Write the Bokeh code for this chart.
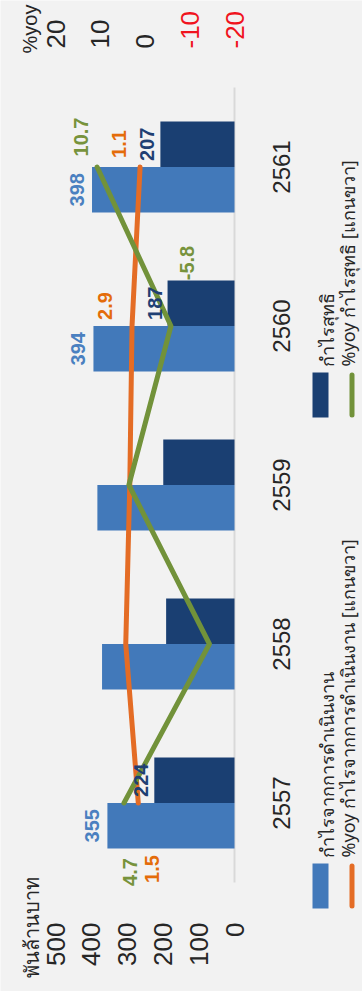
from math import pi
from bokeh.plotting import figure
from bokeh.models import Range1d, ColumnDataSource
from bokeh.transform import dodge
from bokeh.embed import file_html
from bokeh.resources import INLINE
from bokeh.core.properties import value

# ---------------- data ----------------
years = [2557, 2558, 2559, 2560, 2561]
year_labels = ["2557", "2558", "2559", "2560", "2561"]
op_profit = [355, 370, 383, 394, 398]          # กำไรจากการดำเนินงาน
net_profit = [224, 191, 199, 187, 207]         # กำไรสุทธิ
op_yoy = [1.5, 4.3, 3.4, 2.9, 1.1]             # %yoy กำไรจากการดำเนินงาน
net_yoy = [4.7, -14.4, 3.6, -5.8, 10.7]        # %yoy กำไรสุทธิ
op_profit_labels = ["355", "", "", "394", "398"]
net_profit_labels = ["224", "", "", "187", "207"]
op_yoy_labels = ["1.5", "", "", "2.9", "1.1"]
net_yoy_labels = ["4.7", "", "", "-5.8", "10.7"]
value_ticks = [0, 100, 200, 300, 400, 500]
yoy_ticks = [20, 10, 0, -10, -20]
series_names = ["กำไรจากการดำเนินงาน", "กำไรสุทธิ",
                "%yoy กำไรจากการดำเนินงาน [แกนขวา]", "%yoy กำไรสุทธิ [แกนขวา]"]
value_unit = "พันล้านบาท"
yoy_unit = "%yoy"

# ---------------- style / layout ----------------
BG = "#F2F2F2"
LIGHT = "#4279BA"
DARK = "#1A3F72"
ORANGE = "#E46C25"
GREEN = "#72923A"
TXT = "#262626"
RED = "#F0141E"
FONT = "Liberation Sans"
THAI = "Noto Sans"
W, H = 362, 991
FL, FR, FT, FB = 55, 234, 87, 882          # plot-area edges in page pixels
VMAX, YOY_MAX = 500, 20
BAR_H = 0.286

# per-label screen offsets for the yoy data labels (style only)
op_yoy_dx = [14, 0, 0, -27, -21]
op_yoy_dy = [66, 0, 0, -20, -23]
net_yoy_dx = [6, 0, 0, 16, -16]
net_yoy_dy = [69, 0, 0, -63, -30]

# scales: the whole canvas is the frame; the plot area is FL..FR x FT..FB
sx = (FR - FL) / VMAX
syoy = (FR - FL) / (2 * YOY_MAX)
py = (FB - FT) / len(years)
x_range = Range1d(VMAX + FL / sx, 0 - (W - FR) / sx)
y_range = Range1d(years[0] - 0.5 - (H - FB) / py, years[-1] + 0.5 + FT / py)

p = figure(width=W, height=H, x_range=x_range, y_range=y_range,
           x_axis_location=None, y_axis_location=None, title=None, min_border=0,
           output_backend="svg", toolbar_location=None,
           background_fill_color=BG, border_fill_color=BG, outline_line_color=None)
p.extra_x_ranges = {"yoy": Range1d(YOY_MAX + FL / syoy, -YOY_MAX - (W - FR) / syoy),
                    "px": Range1d(0, W)}
p.extra_y_ranges = {"px": Range1d(H, 0)}
p.grid.visible = False

src = ColumnDataSource(dict(
    year=years, year_lbl=year_labels, op=op_profit, net=net_profit,
    op_yoy=op_yoy, net_yoy=net_yoy,
    op_lbl=op_profit_labels, net_lbl=net_profit_labels,
    op_yoy_lbl=op_yoy_labels, net_yoy_lbl=net_yoy_labels,
    op_yoy_dx=op_yoy_dx, op_yoy_dy=op_yoy_dy,
    net_yoy_dx=net_yoy_dx, net_yoy_dy=net_yoy_dy,
))

# ---- value axis tick labels (bottom) ----
p.text(x=value_ticks, y=[FB + 40] * len(value_ticks), y_range_name="px",
       text=[str(v) for v in value_ticks], angle=pi / 2, text_align="right",
       text_baseline="middle", text_font=value(FONT), text_font_size="26px",
       text_color=TXT)

# ---- %yoy axis tick labels (top) ----
p.text(x=yoy_ticks, y=[FT - 39] * len(yoy_ticks), x_range_name="yoy", y_range_name="px",
       text=[str(v) for v in yoy_ticks], angle=pi / 2, text_align="left",
       text_baseline="middle", text_font=value(FONT), text_font_size="26px",
       text_color=[RED if v < 0 else TXT for v in yoy_ticks])

# ---- category axis line + year labels ----
p.segment(x0=[0], x1=[0], y0=[years[0] - 0.5], y1=[years[-1] + 0.5],
          line_color="#D9D9D9", line_width=2)
p.text(x=280.5, y="year", x_range_name="px", text="year_lbl", source=src, angle=pi / 2,
       text_align="center", text_baseline="middle", text_font=value(FONT),
       text_font_size="24px", text_color=TXT)

# ---- bars ----
p.hbar(y=dodge("year", -BAR_H / 2), left=0, right="op", height=BAR_H, source=src,
       fill_color=LIGHT, line_color=None)
p.hbar(y=dodge("year", BAR_H / 2), left=0, right="net", height=BAR_H, source=src,
       fill_color=DARK, line_color=None)

# ---- lines ----
p.line(x="op_yoy", y="year", x_range_name="yoy", source=src, line_color=ORANGE,
       line_width=5, line_cap="round", line_join="round")
p.line(x="net_yoy", y="year", x_range_name="yoy", source=src, line_color=GREEN,
       line_width=5, line_cap="round", line_join="round")

# ---- data labels ----
lbl = dict(angle=pi / 2, text_align="center", text_baseline="middle",
           text_font=value(FONT), text_font_style="bold", text_font_size="20px", source=src)
p.text(x="op", y=dodge("year", -BAR_H / 2), text="op_lbl", x_offset=-15,
       text_color="#4A80C0", **lbl)
p.text(x="net", y=dodge("year", BAR_H / 2), text="net_lbl", x_offset=-13,
       text_color="#1F3F73", **lbl)
p.text(x="op_yoy", y="year", text="op_yoy_lbl", x_range_name="yoy",
       x_offset="op_yoy_dx", y_offset="op_yoy_dy", text_color="#E46C0A", **lbl)
p.text(x="net_yoy", y="year", text="net_yoy_lbl", x_range_name="yoy",
       x_offset="net_yoy_dx", y_offset="net_yoy_dy", text_color="#77933C", **lbl)

# ---- axis titles ----
p.text(x=[29], y=[53], x_range_name="px", y_range_name="px", text=[yoy_unit],
       angle=pi / 2, text_align="left", text_baseline="alphabetic",
       text_font=value(FONT), text_font_size="20px", text_color=TXT)
p.text(x=[31], y=[977], x_range_name="px", y_range_name="px", text=[value_unit],
       angle=pi / 2, text_align="left", text_baseline="alphabetic",
       text_font=value(THAI), text_font_size="20px", text_color=TXT)

# ---- legend (rotated) ----
leg_colors = [LIGHT, DARK, ORANGE, GREEN]
leg_top = [863, 372, 863, 372]
leg_text_x = [326, 326, 347, 347]
KEY_LEN = 45
p.quad(left=312, right=328, top=leg_top[:2], bottom=[t + KEY_LEN for t in leg_top[:2]],
       fill_color=leg_colors[:2], line_color=None, x_range_name="px", y_range_name="px")
p.segment(x0=351.5, x1=351.5, y0=[t + 2.5 for t in leg_top[2:]],
          y1=[t + KEY_LEN - 2.5 for t in leg_top[2:]], line_color=leg_colors[2:],
          line_width=5, line_cap="round", x_range_name="px", y_range_name="px")
p.text(x=leg_text_x, y=[t - 6 for t in leg_top], text=series_names,
       x_range_name="px", y_range_name="px", angle=pi / 2, text_align="left",
       text_baseline="alphabetic", text_font=value(THAI), text_font_size="18px",
       text_color=TXT)

open("out.html", "w").write(file_html(p, INLINE))
